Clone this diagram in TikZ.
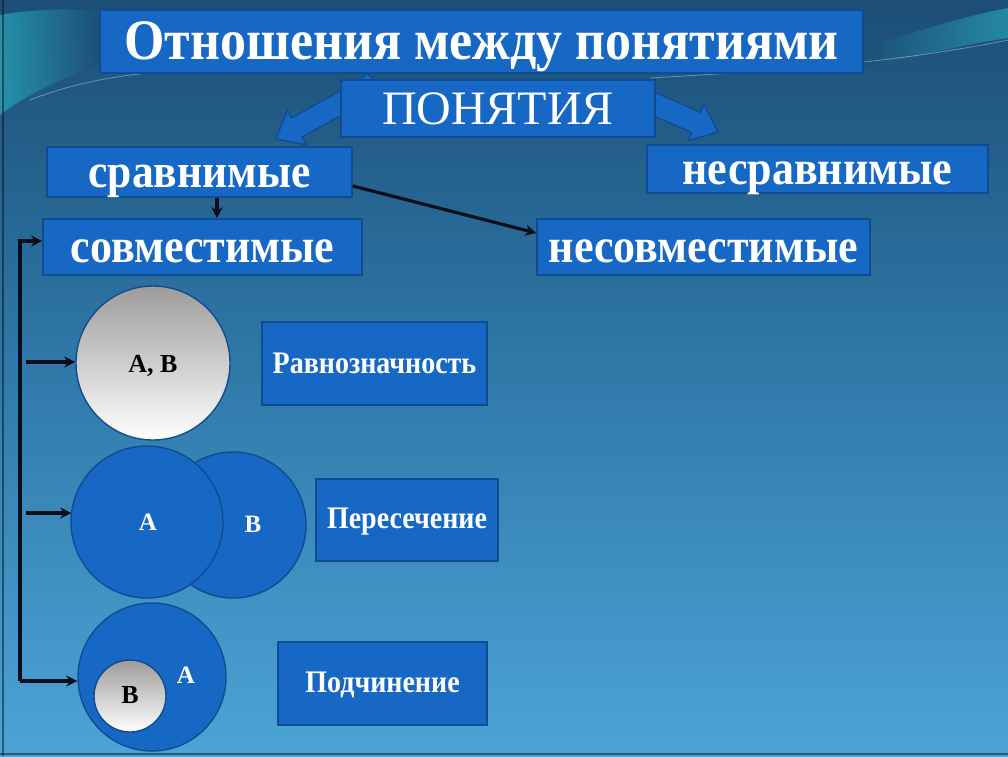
\documentclass[tikz,border=0pt]{standalone}
\usepackage{fontspec}
\setmainfont{Liberation Serif}
\usetikzlibrary{arrows.meta,calc}
\definecolor{bgtop}{RGB}{28,78,118}
\definecolor{bgmid}{RGB}{48,122,170}
\definecolor{bgbot}{RGB}{76,164,214}
\definecolor{boxfill}{RGB}{22,104,196}
\definecolor{boxborder}{RGB}{16,76,146}
\definecolor{teal}{RGB}{40,160,180}
\definecolor{arrowink}{RGB}{8,14,30}
\newcommand\fs[1]{\fontsize{#1}{#1}\selectfont}
\newcommand\tall[2][1.1]{\scalebox{1}[#1]{#2}}
\tikzset{
  box/.style={draw=boxborder, line width=1.6pt, fill=boxfill, text=white, inner sep=0pt, text depth=0pt, font=\bfseries},
  blockarrow/.style={draw=boxborder, line width=1.4pt, fill=boxfill},
  ball/.style={circle, draw=boxborder, line width=1.4pt, inner sep=0pt, text depth=0pt, top color={rgb,255:red,158;green,156;blue,154}, bottom color=white, text=black, font=\bfseries\fs{26}},
  bluedisc/.style={circle, draw=boxborder, line width=1.4pt, inner sep=0pt, fill=boxfill},
  lbl/.style={inner sep=0pt, anchor=base, text=white, font=\bfseries\fs{25}},
  arr/.style={draw=arrowink, line width=3.2pt, -{Stealth[length=11pt,width=11pt]}},
}
\begin{document}
\begin{tikzpicture}[x=1pt,y=-1pt]
\useasboundingbox (0,0) rectangle (1008,756);
% background
\shade[top color=bgtop, bottom color=bgbot, middle color=bgmid] (0,0) rectangle (1008,756);
% swooshes
\shade[left color=teal, right color=bgtop, opacity=0.8] (0,15) .. controls (40,8) and (80,8) .. (100,12) -- (100,63) .. controls (60,80) and (25,95) .. (0,115) -- cycle;
\shade[left color=bgtop, right color=teal, opacity=0.7] (863,48) .. controls (920,30) and (970,15) .. (1008,8) -- (1008,38) .. controls (960,45) and (910,58) .. (863,68) -- cycle;
\draw[white, opacity=0.35, line width=0.8pt] (30,100) .. controls (60,88) and (100,78) .. (140,74);
\draw[white, opacity=0.35, line width=0.8pt] (650,78) .. controls (750,72) and (880,66) .. (1008,40);
\draw[arrowink, opacity=0.5, line width=1.2pt] (3,0) -- (3,756);
\draw[arrowink, opacity=0.5, line width=1.2pt] (0,754) -- (1008,754);
% block arrows behind ПОНЯТИЯ
\filldraw[blockarrow] (355.3,107.6) -- (302.3,137.0) -- (306.7,144.9) -- (276,139) -- (287.3,109.9) -- (291.7,117.8) -- (344.7,88.4) -- cycle;
\filldraw[blockarrow] (640.6,110.1) -- (691.6,132.5) -- (688,140.7) -- (718,132) -- (704,104.1) -- (700.4,112.3) -- (649.4,89.9) -- cycle;
\filldraw[blockarrow] (359,81) -- (367,73) -- (375,81) -- cycle;
% boxes
\node[box, minimum width=763pt, minimum height=63pt, text height=35pt, font=\bfseries\fs{52}] (title) at (481.5,41.5) {\tall{Отношения между понятиями}};
\node[box, minimum width=314pt, minimum height=57pt, text height=31pt, font=\fs{48}] (pon) at (498,108.5) {ПОНЯТИЯ};
\node[box, minimum width=305pt, minimum height=50pt, text height=30pt, font=\bfseries\fs{43.5}] (sr) at (199.5,172) {\tall{сравнимые}};
\node[box, minimum width=341pt, minimum height=48pt, text height=30pt, font=\bfseries\fs{44}] (nesr) at (817.5,169) {\tall{несравнимые}};
\node[box, minimum width=319pt, minimum height=56pt, text height=30pt, font=\bfseries\fs{44}] (sovm) at (202.5,247) {\tall{совместимые}};
\node[box, minimum width=333pt, minimum height=56pt, text height=30pt, font=\bfseries\fs{44}] (nesovm) at (703.5,247) {\tall{несовместимые}};
\node[box, minimum width=225pt, minimum height=83pt, text height=19pt, font=\bfseries\fs{28}] (ravn) at (374.5,363.5) {\tall[1.12]{Равнозначность}};
\node[box, minimum width=182pt, minimum height=82pt, text height=16pt, font=\bfseries\fs{28}] (pers) at (407,520) {\tall[1.12]{Пересечение}};
\node[box, minimum width=209pt, minimum height=83pt, text height=17pt, font=\bfseries\fs{28}] (podch) at (382.5,683.5) {\tall[1.12]{Подчинение}};
% circles
\node[ball, minimum size=154pt, text height=18pt] (cAB) at (153,363) {A, B};
\node[bluedisc, minimum size=146pt] (cB2) at (233,525) {};
\node[lbl] (lB2) at (253,532) {B};
\node[bluedisc, minimum size=152pt] (cA2) at (147,522) {};
\node[lbl] (lA2) at (148,530) {A};
\node[bluedisc, minimum size=148pt] (cA3) at (152,677) {};
\node[lbl] (lA3) at (186,683) {A};
\node[ball, minimum size=72pt, text height=14pt] (cB3) at (130,696) {B};
% connectors
\coordinate (v0) at (20,241);
\coordinate (v3) at (20,681);
\coordinate (m1) at (26,362);
\coordinate (m2) at (26,513);
\draw[arr] (v3) -- (v0) -- (v0 -| sovm.west);
\draw[arr] (v3) -- (v3 -| cA3.west);
\draw[arr] (m1) -- (m1 -| cAB.west);
\draw[arr] (m2) -- ($(m2 -| cA2.west)+(1,0)$);
\draw[arr] ([xshift=17.5pt]sr.south) -- ([xshift=17.5pt]sr.south |- sovm.north);
\draw[arr] ([yshift=-14pt]sr.east) -- ([yshift=14pt]nesovm.west);
\end{tikzpicture}
\end{document}
